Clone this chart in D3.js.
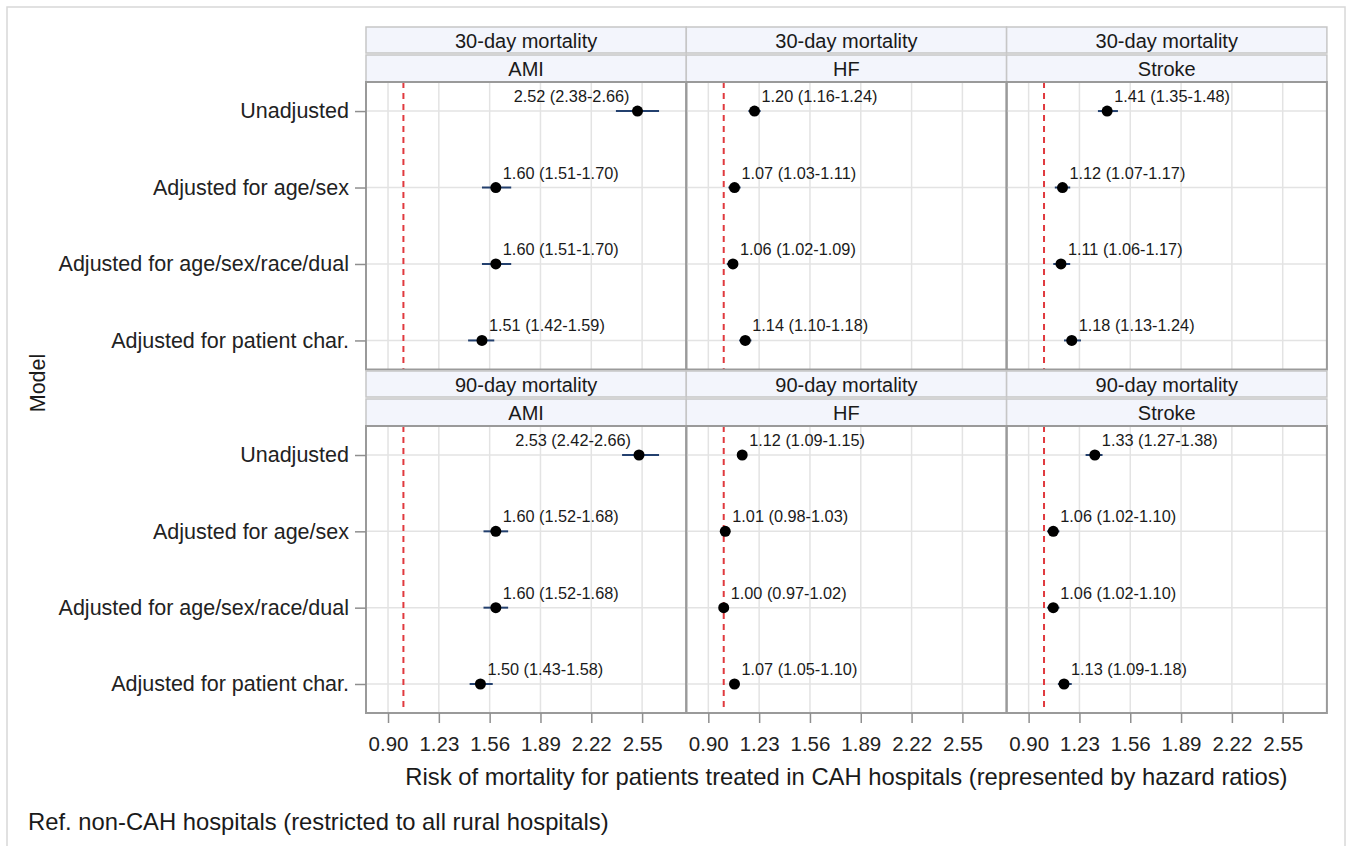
<!DOCTYPE html>
<meta charset="utf-8">
<html>
<head>
<style>
  body { margin: 0; background: #fff; }
  text { font-family: "Liberation Sans", Arial, sans-serif; fill: #1a1a1a; }
  .grid line { stroke: #e3e3e3; stroke-width: 1.5px; }
  .axis path { display: none; }
  .axis line { stroke: #8f8f8f; stroke-width: 1.5px; }
  .axis text { font-size: 20.5px; fill: #222; }
  .axis--y text { font-size: 21.5px; }
</style>
</head>
<body>
<svg width="1349" height="846"></svg>
<script src="https://d3js.org/d3.v7.min.js"></script>
<script>
// categories
var outcomes = ["30-day mortality", "90-day mortality"];
var conditions = ["AMI", "HF", "Stroke"];
var models = ["Unadjusted", "Adjusted for age/sex", "Adjusted for age/sex/race/dual", "Adjusted for patient char."];
var xTicks = [0.90, 1.23, 1.56, 1.89, 2.22, 2.55];

// hazard ratios, one inner array per condition (AMI, HF, Stroke)
var est30 = [[2.52, 1.60, 1.60, 1.51], [1.20, 1.07, 1.06, 1.14], [1.41, 1.12, 1.11, 1.18]];
var lo30  = [[2.38, 1.51, 1.51, 1.42], [1.16, 1.03, 1.02, 1.10], [1.35, 1.07, 1.06, 1.13]];
var hi30  = [[2.66, 1.70, 1.70, 1.59], [1.24, 1.11, 1.09, 1.18], [1.48, 1.17, 1.17, 1.24]];

var est90 = [[2.53, 1.60, 1.60, 1.50], [1.12, 1.01, 1.00, 1.07], [1.33, 1.06, 1.06, 1.13]];
var lo90  = [[2.42, 1.52, 1.52, 1.43], [1.09, 0.98, 0.97, 1.05], [1.27, 1.02, 1.02, 1.09]];
var hi90  = [[2.66, 1.68, 1.68, 1.58], [1.15, 1.03, 1.02, 1.10], [1.38, 1.10, 1.10, 1.18]];

var refValue = 1.0;

var svg = d3.select("svg");
var fmt = d3.format(".2f");

// outer frame
svg.append("rect")
  .attr("x", 7).attr("y", 7).attr("width", 1338).attr("height", 860)
  .attr("fill", "none").attr("stroke", "#d8d8d8").attr("stroke-width", 1.5);

// layout
var left = 366, colW = 320.3;
var rowTop = [27, 371];
var panelBottom = [369.5, 713];
var stripH = 26;

var x = d3.scaleLinear().domain([0.757, 2.837]).range([0, colW]);

var est = [est30, est90], lo = [lo30, lo90], hi = [hi30, hi90];

outcomes.forEach(function(outcome, r) {
  var top = rowTop[r];
  var pTop = top + 55, pH = panelBottom[r] - pTop;
  var y = d3.scalePoint().domain(models).range([0, pH]).padding(0.38);

  conditions.forEach(function(cond, c) {
    var gx = left + c * colW;

    // strips
    [[top, outcome], [top + 28, cond]].forEach(function(s) {
      svg.append("rect")
        .attr("x", gx).attr("y", s[0]).attr("width", colW).attr("height", stripH + (s[0] === top ? 0 : 1))
        .attr("fill", "#f3f5fc").attr("stroke", "#c6c6c6").attr("stroke-width", 1.5);
      svg.append("text")
        .attr("x", gx + colW / 2).attr("y", s[0] + stripH / 2 + 1)
        .attr("dy", "0.35em").attr("text-anchor", "middle")
        .style("font-size", "20px").text(s[1]);
    });

    var g = svg.append("g").attr("transform", "translate(" + gx + "," + pTop + ")");

    // grid
    var grid = g.append("g").attr("class", "grid");
    grid.selectAll(".vx").data(xTicks).enter().append("line")
      .attr("x1", function(d) { return x(d); }).attr("x2", function(d) { return x(d); })
      .attr("y1", 0).attr("y2", pH);
    grid.selectAll(".hy").data(models).enter().append("line")
      .attr("x1", 0).attr("x2", colW)
      .attr("y1", function(d) { return y(d); }).attr("y2", function(d) { return y(d); });

    // reference line
    g.append("line")
      .attr("x1", x(refValue)).attr("x2", x(refValue))
      .attr("y1", 0).attr("y2", pH)
      .attr("stroke", "#e0393e").attr("stroke-width", 2)
      .attr("stroke-dasharray", "6,5");

    var pts = models.map(function(m, i) {
      return { model: m, est: est[r][c][i], lo: lo[r][c][i], hi: hi[r][c][i] };
    });

    // CI bars
    g.selectAll(".ci").data(pts).enter().append("line")
      .attr("x1", function(d) { return x(d.lo); })
      .attr("x2", function(d) { return x(d.hi); })
      .attr("y1", function(d) { return y(d.model); })
      .attr("y2", function(d) { return y(d.model); })
      .attr("stroke", "#23406e").attr("stroke-width", 2);

    // points
    g.selectAll(".pt").data(pts).enter().append("circle")
      .attr("cx", function(d) { return x(d.est); })
      .attr("cy", function(d) { return y(d.model); })
      .attr("r", 5.5).attr("fill", "#000");

    // labels (flip to the left when they would run past the panel)
    g.selectAll(".lbl").data(pts).enter().append("text")
      .style("font-size", "16.3px")
      .attr("y", function(d) { return y(d.model) - 9; })
      .text(function(d) { return fmt(d.est) + " (" + fmt(d.lo) + "-" + fmt(d.hi) + ")"; })
      .each(function(d) {
        var w = this.getComputedTextLength();
        var px = x(d.est);
        if (px + 7 + w > colW - 10) {
          d3.select(this).attr("x", px - 8).attr("text-anchor", "end");
        } else {
          d3.select(this).attr("x", px + 7);
        }
      });

    // panel border
    g.append("rect")
      .attr("x", 0).attr("y", 0).attr("width", colW).attr("height", pH)
      .attr("fill", "none").attr("stroke", "#9a9a9a").attr("stroke-width", 2);

    // y axis on the first column
    if (c === 0) {
      g.append("g").attr("class", "axis axis--y")
        .call(d3.axisLeft(y).tickSize(11).tickPadding(6));
    }

    // x axis on the bottom row
    if (r === outcomes.length - 1) {
      g.append("g").attr("class", "axis axis--x")
        .attr("transform", "translate(0," + pH + ")")
        .call(d3.axisBottom(x).tickValues(xTicks).tickFormat(fmt).tickSize(10).tickPadding(13));
    }
  });
});

// axis titles and note
svg.append("text")
  .attr("transform", "translate(45,383) rotate(-90)")
  .attr("text-anchor", "middle").style("font-size", "21.5px").text("Model");

svg.append("text")
  .attr("x", left + 1.5 * colW).attr("y", 785)
  .attr("text-anchor", "middle").style("font-size", "23.8px")
  .text("Risk of mortality for patients treated in CAH hospitals (represented by hazard ratios)");

svg.append("text")
  .attr("x", 28).attr("y", 830)
  .style("font-size", "23.8px")
  .text("Ref. non-CAH hospitals (restricted to all rural hospitals)");
</script>
</body>
</html>
